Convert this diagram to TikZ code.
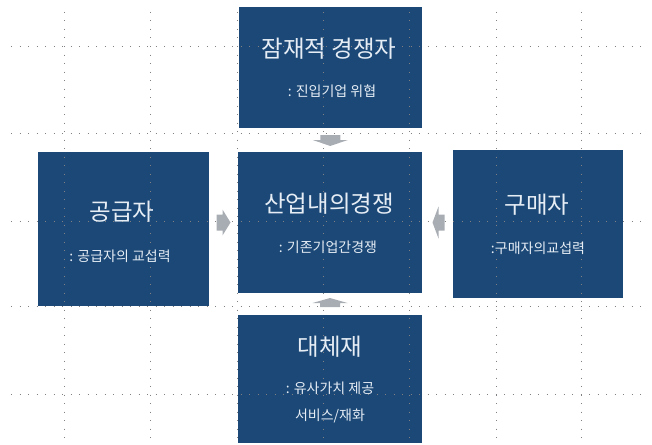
\documentclass[tikz,border=0pt]{standalone}
\usepackage{fontspec}
\setmainfont{Noto Sans CJK KR}
\usetikzlibrary{calc}
\definecolor{boxblue}{HTML}{1B4876}
\definecolor{txtlight}{HTML}{E6EDF5}
\definecolor{arrgray}{HTML}{A8ACB3}
\definecolor{gridgray}{HTML}{7E8084}
\tikzset{
  forcebox/.style={fill=boxblue, draw=none, inner sep=0pt},
  titletext/.style={text=txtlight, font=\fontsize{23.5}{27}\selectfont, inner sep=0pt},
  subtext/.style={text=txtlight, font=\fontsize{14}{17}\selectfont, inner sep=0pt},
  gridline/.style={gridgray, line width=1pt, dash pattern=on 1pt off 7.5pt},
  blockarrow/.style={fill=arrgray, draw=none},
}
\begin{document}
\begin{tikzpicture}[x=1pt,y=-1pt]
\useasboundingbox (0,0) rectangle (652,444);
% boxes
\node[forcebox, minimum width=183pt, minimum height=121pt] (top) at (330.5,67.5) {};
\node[forcebox, minimum width=184pt, minimum height=141pt] (mid) at (330,222.5) {};
\node[forcebox, minimum width=171pt, minimum height=154pt] (left) at (123.5,229) {};
\node[forcebox, minimum width=170pt, minimum height=148pt] (right) at (538,224) {};
\node[forcebox, minimum width=184pt, minimum height=128pt] (bot) at (330,379) {};
% grid
\foreach \gy in {47,133,221,306,394}{\draw[gridline] (11,\gy) -- (646,\gy);}
\foreach \gx in {64,150,237,323,409,496,581}{\draw[gridline] (\gx,12) -- (\gx,444);}
% texts
\node[titletext] (topt) at (329,49) {잠재적 경쟁자};
\node[subtext] (tops) at (332,91) {: 진입기업 위협};
\node[titletext] (leftt) at (122,212) {공급자};
\node[subtext] (lefts) at (120,256) {: 공급자의 교섭력};
\node[titletext] (midt) at (329,204) {산업내의경쟁};
\node[subtext] (mids) at (328,247) {: 기존기업간경쟁};
\node[titletext] (rightt) at (537,205) {구매자};
\node[subtext] (rights) at (538,248) {:구매자의교섭력};
\node[titletext] (bott) at (330,347) {대체재};
\node[subtext] (bots) at (330,388) {: 유사가치 제공};
\node[subtext] (bots2) at (330,416) {서비스/재화};
% arrow anchor points between boxes
\coordinate (aleft) at ($(left.east |- mid.center)!0.5!(mid.west)$);
\coordinate (aright) at ($(mid.east)!0.5!(right.west |- mid.center)$);
\coordinate (atop) at ($(top.south)!0.5!(mid.north)$);
\coordinate (abot) at ($(mid.south)!0.5!(bot.north)$);
% block arrows
\begin{scope}[shift={(aleft)}]
\fill[blockarrow] (-7,-8) -- (-1,-8) -- (-1,-13) -- (7,0) -- (-1,13) -- (-1,8) -- (-7,8) -- cycle;
\end{scope}
\begin{scope}[shift={(aright)}]
\fill[blockarrow] (7,-8) -- (1,-8) -- (1,-16) -- (-5,0) -- (1,16) -- (1,8) -- (7,8) -- cycle;
\end{scope}
\begin{scope}[shift={(atop)}]
\fill[blockarrow] (-10,-5) -- (10,-5) -- (10,0) -- (17.5,0) -- (0,6) -- (-17.5,0) -- (-10,0) -- cycle;
\end{scope}
\begin{scope}[shift={(abot)}]
\fill[blockarrow] (-10,3) -- (10,3) -- (10,-1) -- (17.5,-1) -- (0,-6) -- (-17.5,-1) -- (-10,-1) -- cycle;
\end{scope}
\end{tikzpicture}
\end{document}
